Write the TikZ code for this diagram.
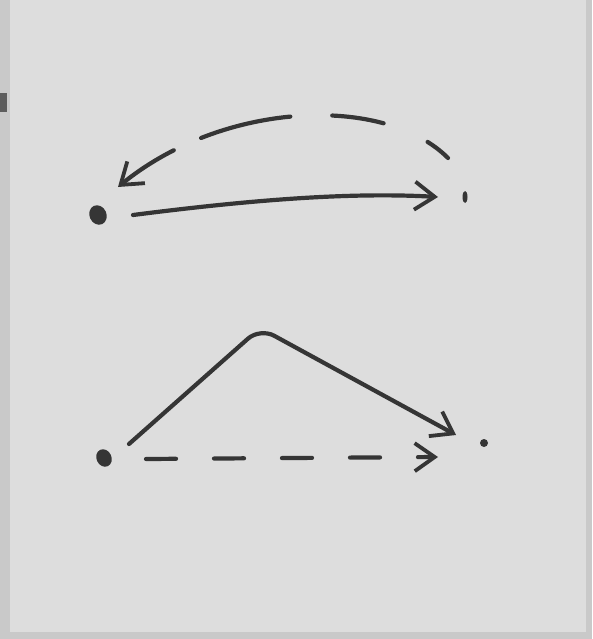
\documentclass[tikz,border=0pt]{standalone}
\usetikzlibrary{arrows.meta,shapes.geometric}
\definecolor{board}{HTML}{DDDDDD}
\definecolor{edge}{HTML}{C9C9C9}
\definecolor{ink}{HTML}{353535}
\tikzset{
  pen/.style={draw=ink, line width=4.2pt, line cap=round, line join=round},
  dashpen/.style={pen, dash pattern=on 30pt off 38pt},
  barb/.style={-{Straight Barb[length=20pt,width=28pt,line width=3.8pt]}},
  blob/.style={fill=ink, draw=none, ellipse, inner sep=0pt}
}
\begin{document}
\begin{tikzpicture}[x=1pt,y=-1pt]
% board
\fill[board] (0,0) rectangle (592,639);
\fill[edge] (0,0) rectangle (10,639);
\fill[edge] (586,0) rectangle (592,639);
\fill[edge] (0,632) rectangle (592,639);
\fill[ink!80] (0,93) rectangle (7,112);
\useasboundingbox (0,0) rectangle (592,639);

% dots
\node[blob, minimum width=17pt, minimum height=20pt, rotate=25] (A) at (98,215) {};
\node[blob, minimum width=5pt, minimum height=12pt] (B) at (465,197) {};
\node[blob, minimum width=15pt, minimum height=18pt, rotate=25] (C) at (104,458) {};
\node[circle, fill=ink, inner sep=0pt, minimum size=8pt] (D) at (484,443) {};

% connector ends
\coordinate (a1) at (133,215);
\coordinate (b1) at (438,197);
\coordinate (b2) at (448,158);
\coordinate (a2) at (118,187);
\coordinate (c1) at (129,444);
\coordinate (peak) at (260,328);
\coordinate (d1) at (456,435);
\coordinate (c2) at (146,459);
\coordinate (d2) at (438,457);

% top: solid arrow A -> B
\draw[pen, barb] (a1) .. controls (250,200) and (350,192) .. (b1);
% top: dashed arrow B -> A
\draw[pen, dash pattern=on 26pt off 48pt on 52pt off 42pt on 92pt off 30pt on 80pt off 10pt, barb]
  (b2) .. controls (385,95) and (225,100) .. (a2);

% bottom: solid bent arrow C -> D
\draw[pen, rounded corners=16pt, barb] (c1) -- (peak) -- (d1);
% bottom: dashed arrow C -> D
\draw[dashpen, barb] (c2) -- (d2);
\end{tikzpicture}
\end{document}
